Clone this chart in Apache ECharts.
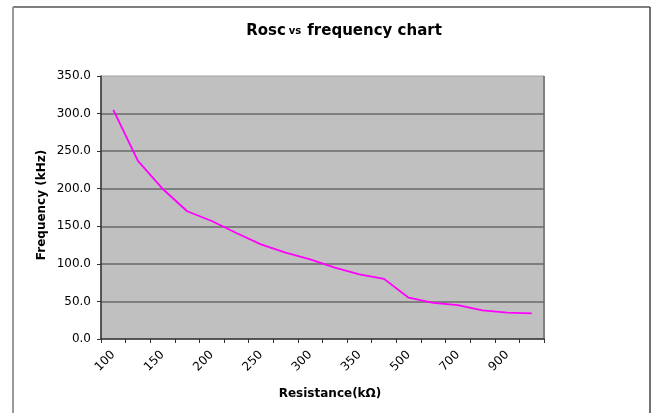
<!DOCTYPE html>
<html>
<head>
<meta charset="utf-8">
<script src="https://cdn.jsdelivr.net/npm/echarts@6/dist/echarts.min.js"></script>
<style>html,body{margin:0;padding:0;background:#fff;}#chart{width:654px;height:413px;}</style>
</head>
<body>
<div id="chart"></div>
<script>
// Resistance categories (kΩ); only every other label is shown, as in the reference
const resistance = ['100','130','150','180','200','220','250','270','300','330','350','390','500','600','700','800','900','1000'];
// Frequency values (kHz)
const frequency = [305, 237, 200, 170, 157, 141, 126, 115, 106, 95, 86, 80, 55, 48, 45, 38, 35, 34];
const yTicks = { min: 0, max: 350, interval: 50 };

const FONT = 'DejaVu Sans';
const chart = echarts.init(document.getElementById('chart'), null, { renderer: 'canvas' });
chart.setOption({
  backgroundColor: '#ffffff',
  animation: false,
  grid: {
    left: 101, right: 110, top: 76, bottom: 74,
    show: true, backgroundColor: '#C0C0C0', borderColor: '#a0a0a0', borderWidth: 1
  },
  xAxis: {
    type: 'category',
    data: resistance,
    boundaryGap: true,
    axisLine: { show: true, lineStyle: { color: '#333', width: 1.5 } },
    axisTick: { show: true, interval: 0, length: 4, lineStyle: { color: '#333' } },
    axisLabel: { interval: 1, rotate: 45, margin: 14, color: '#000', fontFamily: FONT, fontSize: 12 },
    splitLine: { show: false }
  },
  yAxis: {
    type: 'value',
    min: yTicks.min, max: yTicks.max, interval: yTicks.interval,
    axisLine: { show: true, lineStyle: { color: '#333', width: 1.5 } },
    axisTick: { show: true, length: 4, lineStyle: { color: '#333' } },
    axisLabel: { margin: 10, color: '#000', fontFamily: FONT, fontSize: 12,
      formatter: v => v.toFixed(1) },
    splitLine: { show: true, showMinLine: false, showMaxLine: false,
      lineStyle: { color: '#6a6a6a', width: 1.5 } }
  },
  series: [{
    type: 'line',
    data: frequency,
    showSymbol: false,
    symbol: 'none',
    lineStyle: { color: '#FF00FF', width: 1.8 },
    itemStyle: { color: '#FF00FF' }
  }],
  graphic: [
    { type: 'line', shape: { x1: 13, y1: 7, x2: 650, y2: 7 }, style: { stroke: '#555', lineWidth: 1.5 } },
    { type: 'line', shape: { x1: 13, y1: 7, x2: 13, y2: 413 }, style: { stroke: '#999', lineWidth: 2 } },
    { type: 'line', shape: { x1: 650, y1: 7, x2: 650, y2: 413 }, style: { stroke: '#444', lineWidth: 1.5 } },
    { type: 'line', shape: { x1: 544, y1: 76, x2: 544, y2: 339 }, style: { stroke: '#808080', lineWidth: 2 } },
    {
      type: 'text', x: 344, y: 31,
      style: {
        text: '{a|Rosc}{b|vs}{a|frequency chart}',
        textAlign: 'center', textVerticalAlign: 'middle',
        rich: {
          a: { fontFamily: FONT, fontWeight: 'bold', fontSize: 15, fill: '#000', verticalAlign: 'bottom', height: 18 },
          b: { fontFamily: FONT, fontWeight: 'bold', fontSize: 10, fill: '#000', verticalAlign: 'bottom', height: 18, padding: [0, 6, 0, 3] }
        }
      }
    },
    {
      type: 'text', x: 330, y: 394,
      style: { text: 'Resistance(kΩ)', textAlign: 'center', textVerticalAlign: 'middle',
        fontFamily: FONT, fontWeight: 'bold', fontSize: 12, fill: '#000' }
    },
    {
      type: 'text', x: 42, y: 205, rotation: Math.PI / 2,
      style: { text: 'Frequency (kHz)', textAlign: 'center', textVerticalAlign: 'middle',
        fontFamily: FONT, fontWeight: 'bold', fontSize: 12, fill: '#000' }
    }
  ]
});
</script>
</body>
</html>
